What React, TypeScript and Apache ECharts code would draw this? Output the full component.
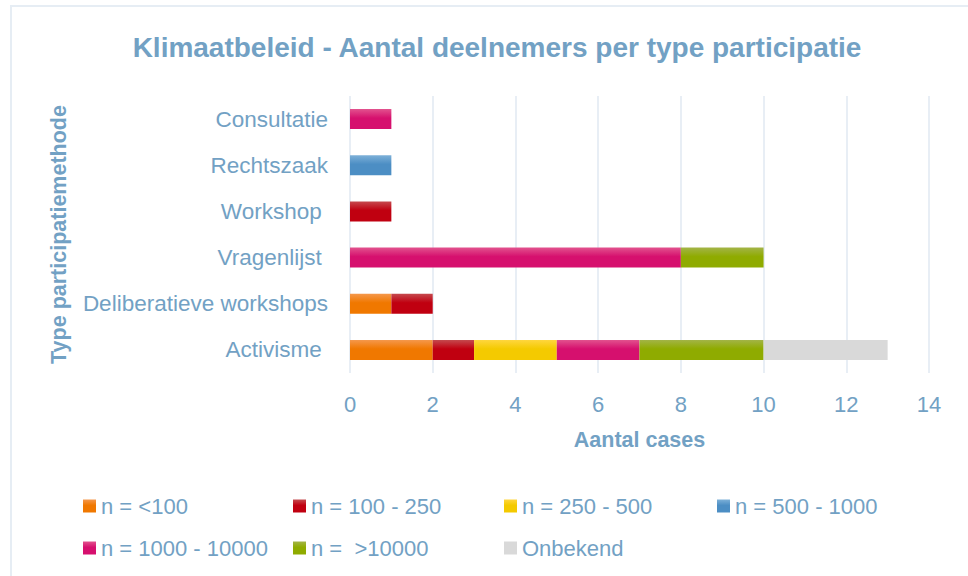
import React, { useEffect, useRef } from "react";
import * as echarts from "echarts";

const categories = ["Consultatie", "Rechtszaak", "Workshop ", "Vragenlijst ", "Deliberatieve workshops", "Activisme "];
const seriesNames = ["n = <100", "n = 100 - 250", "n = 250 - 500", "n = 500 - 1000", "n = 1000 - 10000", "n =  >10000", "Onbekend"];
const lt100 = [0, 0, 0, 0, 1, 2];
const r100_250 = [0, 0, 1, 0, 1, 1];
const r250_500 = [0, 0, 0, 0, 0, 2];
const r500_1000 = [0, 1, 0, 0, 0, 0];
const r1000_10000 = [1, 0, 0, 8, 0, 2];
const gt10000 = [0, 0, 0, 2, 0, 3];
const onbekend = [0, 0, 0, 0, 0, 3];
const xTicks = [0, 2, 4, 6, 8, 10, 12, 14];

const seriesValues = [lt100, r100_250, r250_500, r500_1000, r1000_10000, gt10000, onbekend];
const colorPairs: [string, string][] = [
  ["#f5984c", "#f07800"],
  ["#c54a4e", "#c00010"],
  ["#ffd63e", "#f4ca00"],
  ["#7db0d8", "#4c8ec4"],
  ["#e2528e", "#d6106e"],
  ["#a3b447", "#8fab00"],
  ["#d9d9d9", "#d9d9d9"],
];
const legendLefts = [78, 288, 499, 712, 78, 288, 499];
const legendTops = [490, 490, 490, 490, 532, 532, 532];

const textColor = "#72a1c4";
const font = "'Liberation Sans', Arial, sans-serif";

export default function App() {
  const ref = useRef<HTMLDivElement>(null);
  useEffect(() => {
    if (!ref.current) return;
    const chart = echarts.init(ref.current, undefined, { renderer: "svg" });
    const grad = (c: [string, string]) =>
      new echarts.graphic.LinearGradient(0, 0, 0, 1, [
        { offset: 0, color: c[0] },
        { offset: 0.45, color: c[1] },
        { offset: 1, color: c[1] },
      ]);
    const series = seriesNames.map((name, i) => ({
      name,
      type: "bar" as const,
      stack: "total",
      barWidth: 20,
      data: seriesValues[i].map((v) => (v === 0 ? null : v)),
      itemStyle: { color: grad(colorPairs[i]) },
    }));
    const legends = seriesNames.map((name, i) => ({
      left: legendLefts[i],
      top: legendTops[i],
      itemWidth: 13,
      itemHeight: 13,
      itemGap: 5,
      icon: "rect",
      data: [name],
      textStyle: { color: textColor, fontSize: 22, fontFamily: font },
    }));
    chart.setOption({
      animation: false,
      title: {
        text: "Klimaatbeleid - Aantal deelnemers per type participatie",
        left: 492,
        textAlign: "center",
        top: 28,
        textStyle: { color: textColor, fontSize: 28, fontWeight: "bold", fontFamily: font },
      },
      graphic: [
        {
          type: "rect",
          shape: { x: 11, y: 6, width: 1000, height: 600 },
          style: { fill: "none", stroke: "#e6edf4", lineWidth: 2 },
          silent: true,
        },
      ],
      legend: legends,
      grid: { left: 350, right: 39, top: 96, bottom: 203, containLabel: false },
      xAxis: {
        type: "value",
        min: 0,
        max: 14,
        interval: 2,
        name: "Aantal cases",
        nameLocation: "middle",
        nameGap: 56,
        nameTextStyle: { color: textColor, fontSize: 21.5, fontWeight: "bold", fontFamily: font },
        axisLine: { show: false },
        axisTick: { show: false },
        axisLabel: {
          color: textColor,
          fontSize: 22,
          fontFamily: font,
          margin: 20,
          formatter: (v: number) => (xTicks.includes(v) ? String(v) : ""),
        },
        splitLine: { show: true, lineStyle: { color: "#e8eef5", width: 2 } },
      },
      yAxis: {
        type: "category",
        inverse: true,
        data: categories,
        name: "Type participatiemethode",
        nameLocation: "middle",
        nameGap: 280,
        nameRotate: 90,
        nameTextStyle: { color: textColor, fontSize: 21.5, fontWeight: "bold", fontFamily: font },
        axisLine: { show: false },
        axisTick: { show: false },
        axisLabel: { color: textColor, fontSize: 22.5, fontFamily: font, margin: 22 },
      },
      series,
    });
    return () => chart.dispose();
  }, []);
  return (
    <div
      ref={ref}
      style={{ position: "fixed", left: 0, top: 0, width: 968, height: 576, background: "#ffffff" }}
    />
  );
}
